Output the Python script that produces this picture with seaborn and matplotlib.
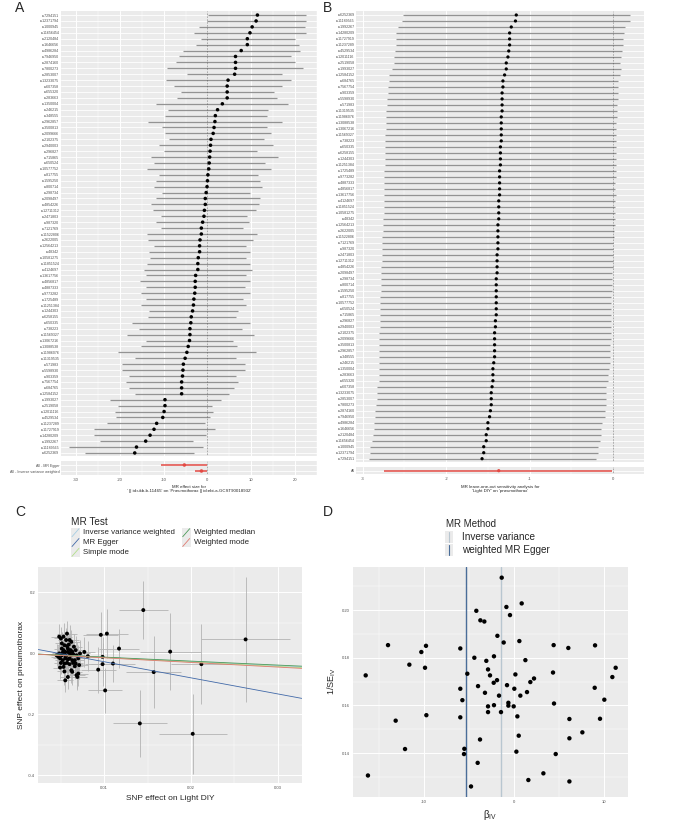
import numpy as np
import pandas as pd
import matplotlib
matplotlib.use('Agg')
import matplotlib.pyplot as plt
from matplotlib.patches import Rectangle
from matplotlib.lines import Line2D
from matplotlib.ticker import MultipleLocator, FixedLocator
import seaborn as sns

W, H = 686, 822

# ---------------- data ----------------
# A: single SNP forest plot
a_snps = ['rs7294151', 'rs12371794', 'rs1000945', 'rs11656454', 'rs2120484', 'rs1646656',
          'rs4986284', 'rs7946950', 'rs2874160', 'rs7800273', 'rs2853007', 'rs13233075',
          'rs607358', 'rs655320', 'rs283663', 'rs1350004', 'rs246215', 'rs348555',
          'rs2962857', 'rs3500813', 'rs2099666', 'rs2102375', 'rs2940003', 'rs296827',
          'rs715865', 'rs650524', 'rs10577752', 'rs817755', 'rs1595250', 'rs800714',
          'rs298734', 'rs2098497', 'rs4854226', 'rs12711312', 'rs2471803', 'rs987320',
          'rs7121769', 'rs11522806', 'rs2622005', 'rs12564213', 'rs48342', 'rs10581275',
          'rs11851524', 'rs4124697', 'rs13617756', 'rs4856817', 'rs4887333', 'rs9773282',
          'rs1725489', 'rs11251384', 'rs1244303', 'rs6258155', 'rs650335', 'rs738223',
          'rs11569327', 'rs13067216', 'rs13088538', 'rs11986076', 'rs11319535', 'rs571983',
          'rs5598930', 'rs903359', 'rs7567754', 'rs684765', 'rs12584152', 'rs1993027',
          'rs2519058', 'rs12011116', 'rs4529534', 'rs11237289', 'rs11727919', 'rs14280209',
          'rs1992267', 'rs11189565', 'rs6252369']
a_b = [11.4, 11.1, 10.2, 9.7, 9.1, 9.1, 7.7, 6.4, 6.4, 6.4,
       6.2, 4.7, 4.5, 4.5, 4.5, 3.4, 2.3, 1.8, 1.7, 1.5,
       1.3, 0.8, 0.7, 0.6, 0.5, 0.4, 0.3, 0.1, 0.0, -0.1,
       -0.3, -0.5, -0.5, -0.7, -0.8, -1.1, -1.4, -1.4, -1.7, -1.8,
       -1.8, -2.1, -2.2, -2.2, -2.7, -2.8, -2.8, -2.9, -3.1, -3.2,
       -3.4, -3.7, -3.8, -4.0, -4.0, -4.1, -4.4, -4.7, -5.1, -5.5,
       -5.6, -5.7, -5.9, -5.9, -5.9, -9.7, -9.7, -9.9, -10.2, -11.6,
       -12.2, -13.1, -14.1, -16.2, -16.6]
a_lo = [0.2, -0.1, -1.9, -3.0, -1.4, -2.6, -5.5, -6.5, -7.2, -9.2,
        -4.6, -9.4, -7.6, -6.1, -6.9, -11.7, -9.1, -9.7, -13.5, -10.3,
        -9.6, -8.7, -11.1, -9.9, -12.8, -12.2, -13.8, -11.1, -11.7, -12.2,
        -10.3, -11.8, -12.9, -12.4, -10.5, -11.7, -10.5, -13.9, -13.6, -12.2,
        -13.3, -13.1, -13.8, -14.5, -14.1, -15.3, -14.1, -15.2, -14.0, -15.1,
        -13.4, -13.6, -17.3, -15.7, -18.4, -14.0, -15.2, -20.4, -16.6, -19.4,
        -19.6, -17.8, -18.6, -17.9, -16.6, -22.3, -20.4, -21.1, -20.8, -22.9,
        -25.8, -25.8, -24.6, -31.5, -28.0]
a_hi = [22.6, 22.5, 22.3, 22.5, 19.9, 21.0, 21.1, 19.1, 19.9, 21.7,
        16.9, 19.0, 16.9, 15.2, 15.8, 18.4, 13.9, 13.6, 17.1, 13.5,
        14.6, 12.8, 15.0, 11.3, 16.2, 13.2, 14.4, 11.6, 11.9, 12.5,
        9.6, 11.9, 11.8, 11.1, 9.1, 9.5, 8.0, 11.2, 10.5, 8.7,
        9.7, 8.9, 9.6, 10.2, 8.9, 9.8, 8.5, 9.6, 8.1, 8.8,
        7.0, 6.4, 9.8, 7.9, 10.6, 5.8, 6.7, 11.0, 6.4, 8.5,
        8.6, 6.5, 6.9, 6.0, 4.9, 3.1, 1.0, 1.2, 0.5, -0.5,
        1.8, -0.4, -3.4, -1.1, -3.1]
a_sum_labels = ['All - MR Egger', 'All - Inverse variance weighted']
a_sum_b = [-5.27, -1.37]
a_sum_lo = [-10.55, -2.74]
a_sum_hi = [-0.02, -0.01]

# B: leave-one-out
b_snps = a_snps[::-1]
b_b = [-1.16, -1.17, -1.22, -1.24, -1.24, -1.24, -1.25, -1.26, -1.28, -1.28,
       -1.30, -1.32, -1.32, -1.33, -1.33, -1.33, -1.33, -1.34, -1.34, -1.34,
       -1.34, -1.34, -1.35, -1.35, -1.35, -1.35, -1.36, -1.36, -1.36, -1.36,
       -1.36, -1.37, -1.37, -1.37, -1.37, -1.38, -1.38, -1.38, -1.38, -1.38,
       -1.39, -1.39, -1.39, -1.39, -1.40, -1.40, -1.40, -1.40, -1.40, -1.40,
       -1.40, -1.41, -1.41, -1.42, -1.42, -1.42, -1.42, -1.42, -1.43, -1.44,
       -1.44, -1.44, -1.45, -1.46, -1.46, -1.46, -1.47, -1.48, -1.50, -1.50,
       -1.52, -1.52, -1.55, -1.55, -1.57]
b_lo = [-2.52, -2.53, -2.58, -2.60, -2.60, -2.60, -2.61, -2.62, -2.63, -2.65,
        -2.68, -2.69, -2.70, -2.70, -2.71, -2.71, -2.72, -2.72, -2.72, -2.72,
        -2.73, -2.73, -2.73, -2.73, -2.73, -2.73, -2.74, -2.74, -2.74, -2.75,
        -2.75, -2.75, -2.75, -2.75, -2.76, -2.76, -2.76, -2.77, -2.77, -2.77,
        -2.77, -2.77, -2.78, -2.78, -2.78, -2.78, -2.78, -2.79, -2.79, -2.79,
        -2.79, -2.79, -2.79, -2.80, -2.80, -2.80, -2.80, -2.81, -2.81, -2.81,
        -2.81, -2.81, -2.83, -2.83, -2.83, -2.84, -2.85, -2.85, -2.87, -2.87,
        -2.88, -2.89, -2.91, -2.91, -2.92]
b_hi = [0.20, 0.20, 0.14, 0.13, 0.12, 0.12, 0.11, 0.10, 0.08, 0.09,
        0.08, 0.06, 0.06, 0.06, 0.06, 0.05, 0.05, 0.05, 0.04, 0.04,
        0.04, 0.04, 0.04, 0.04, 0.03, 0.03, 0.03, 0.03, 0.02, 0.02,
        0.03, 0.02, 0.02, 0.02, 0.02, 0.02, 0.01, 0.01, 0.00, 0.00,
        0.00, 0.00, 0.00, -0.01, -0.01, -0.01, -0.01, -0.02, -0.02, -0.02,
        -0.02, -0.02, -0.03, -0.03, -0.03, -0.04, -0.04, -0.04, -0.04, -0.05,
        -0.06, -0.06, -0.08, -0.08, -0.08, -0.09, -0.10, -0.10, -0.13, -0.14,
        -0.14, -0.16, -0.18, -0.18, -0.20]
b_all_label = ['All']
b_all_b = [-1.37]
b_all_lo = [-2.74]
b_all_hi = [-0.01]

# C: scatter of SNP effects
c_bx = [0.0145, 0.0263, 0.0176, 0.0212, 0.0157, 0.0141, 0.0202, 0.0103, 0.0096, 0.0117,
        0.0101, 0.0093, 0.0098, 0.0098, 0.0110, 0.0077, 0.0081,
        0.0048, 0.0050, 0.0053, 0.0057, 0.0051, 0.0054, 0.0057, 0.0060, 0.0062, 0.0065,
        0.0067, 0.0048, 0.0051, 0.0053, 0.0055, 0.0058, 0.0060, 0.0062, 0.0064, 0.0068,
        0.0049, 0.0052, 0.0055, 0.0058, 0.0060, 0.0063, 0.0066, 0.0070, 0.0050, 0.0054,
        0.0057, 0.0060, 0.0064, 0.0067, 0.0071, 0.0049, 0.0062, 0.0063, 0.0058, 0.0055,
        0.0068, 0.0070, 0.0056, 0.0058, 0.0051, 0.0072, 0.0047, 0.0055, 0.0061, 0.0053,
        0.0066, 0.0069, 0.0045, 0.0052, 0.0056, 0.0059, 0.0063, 0.0054]
c_by = [0.141, 0.045, 0.005, -0.036, -0.062, -0.230, -0.264, 0.064, 0.060, 0.015,
        -0.122, -0.054, -0.036, -0.012, -0.034, 0.004, -0.010,
        0.054, 0.048, 0.054, 0.064, 0.032, 0.026, 0.023, 0.043, 0.037, 0.021,
        0.010, -0.001, -0.007, 0.010, 0.004, 0.004, -0.001, -0.007, -0.003, -0.007,
        -0.017, -0.023, -0.017, -0.021, -0.017, -0.023, -0.023, -0.017, -0.032, -0.034,
        -0.032, -0.036, -0.032, -0.034, -0.039, -0.047, -0.056, -0.061, -0.078, -0.089,
        -0.072, -0.067, 0.043, 0.015, 0.015, -0.001, -0.012, -0.007, 0.010, -0.045,
        -0.043, -0.078, -0.007, 0.002, -0.010, 0.028, 0.005, -0.060]
c_bx_se = [0.0028, 0.0051, 0.0035, 0.0035, 0.0032, 0.0031, 0.0039, 0.0024, 0.0020, 0.0023,
           0.0020, 0.0020, 0.0020, 0.0020, 0.0025, 0.0012, 0.0013,
           0.0009, 0.0008, 0.0010, 0.0011, 0.0008, 0.0009, 0.0010, 0.0011, 0.0010, 0.0009,
           0.0010, 0.0008, 0.0009, 0.0008, 0.0009, 0.0010, 0.0009, 0.0011, 0.0010, 0.0009,
           0.0008, 0.0009, 0.0010, 0.0009, 0.0008, 0.0010, 0.0011, 0.0010, 0.0008, 0.0009,
           0.0009, 0.0010, 0.0011, 0.0009, 0.0010, 0.0008, 0.0010, 0.0011, 0.0009, 0.0009,
           0.0010, 0.0011, 0.0009, 0.0008, 0.0009, 0.0011, 0.0008, 0.0009, 0.0010, 0.0008,
           0.0010, 0.0011, 0.0007, 0.0008, 0.0009, 0.0010, 0.0009, 0.0008]
c_by_se = [0.095, 0.205, 0.125, 0.130, 0.118, 0.110, 0.130, 0.080, 0.075, 0.063,
           0.073, 0.075, 0.070, 0.065, 0.060, 0.050, 0.050,
           0.042, 0.038, 0.045, 0.040, 0.036, 0.044, 0.041, 0.048, 0.039, 0.043,
           0.046, 0.037, 0.040, 0.044, 0.038, 0.042, 0.047, 0.039, 0.041, 0.045,
           0.036, 0.043, 0.040, 0.038, 0.046, 0.042, 0.039, 0.044, 0.037, 0.041,
           0.045, 0.040, 0.038, 0.043, 0.046, 0.039, 0.042, 0.044, 0.040, 0.038,
           0.045, 0.041, 0.039, 0.043, 0.040, 0.044, 0.037, 0.042, 0.046, 0.039,
           0.041, 0.043, 0.036, 0.040, 0.044, 0.038, 0.042, 0.045]
c_methods = ['Inverse variance weighted', 'MR Egger', 'Simple mode', 'Weighted median', 'Weighted mode']
c_intercept = [0.0, 0.0244, 0.0, 0.0, 0.0]
c_slope = [-1.37, -5.26, -1.45, -1.30, -1.52]
c_colors = ['#a6cee3', '#4169a8', '#b2df8a', '#4a9a58', '#e07a70']

# D: funnel plot
d_beta = [-1.33, -0.81, 0.89, -4.15, -0.41, -3.70, -3.26, -1.81, -1.11, 0.63,
          -13.96, -9.74, 4.44, 6.07, 9.04, -10.26, -5.93, -4.37, -2.19, -3.04,
          1.30, -11.59, -9.85, -2.85, 11.33, -5.15, -16.44, -2.63, 0.19, 4.37,
          10.96, 2.26, -1.85, -2.22, 1.85, -3.96, -0.74, -5.93, 0.07, 9.00,
          -3.19, 1.48, -1.63, 0.74, -5.70, 10.07, -0.59, 4.48, -2.85, -2.19,
          -0.59, 0.00, -2.85, -1.41, -9.70, 0.41, -5.93, -13.11, 6.19, 9.59,
          7.63, 0.56, -3.74, 6.19, -12.07, -5.48, 0.30, -5.52, 4.67, -4.00,
          3.30, -16.19, 1.63, 6.19, -4.74]
d_inv_se = [0.2136, 0.2013, 0.2028, 0.1997, 0.1979, 0.1957, 0.1952, 0.1892, 0.1864, 0.1870,
            0.1853, 0.1850, 0.1853, 0.1841, 0.1852, 0.1824, 0.1839, 0.1800, 0.1806, 0.1787,
            0.1790, 0.1771, 0.1758, 0.1751, 0.1758, 0.1733, 0.1726, 0.1726, 0.1730, 0.1738,
            0.1719, 0.1713, 0.1706, 0.1695, 0.1698, 0.1681, 0.1685, 0.1670, 0.1670, 0.1674,
            0.1653, 0.1656, 0.1641, 0.1641, 0.1622, 0.1624, 0.1611, 0.1608, 0.1596, 0.1601,
            0.1599, 0.1596, 0.1572, 0.1572, 0.1559, 0.1554, 0.1550, 0.1536, 0.1543, 0.1544,
            0.1487, 0.1473, 0.1457, 0.1462, 0.1417, 0.1418, 0.1406, 0.1396, 0.1396, 0.1359,
            0.1315, 0.1306, 0.1287, 0.1281, 0.1260]
d_methods = ['Inverse variance', 'weighted MR Egger']
d_lines = [-1.37, -5.26]
d_colors = ['#b8c6d0', '#4a6d99']

# ---------------- style ----------------
sns.set_theme(style='darkgrid', rc={
    'axes.facecolor': '#EBEBEB', 'grid.color': 'white', 'grid.linewidth': 0.7,
    'axes.unicode_minus': False, 'xtick.color': '#333333', 'ytick.color': '#333333',
    'xtick.labelcolor': '#4D4D4D', 'ytick.labelcolor': '#4D4D4D',
    'xtick.major.size': 1.3, 'ytick.major.size': 1.3,
    'xtick.major.width': 0.4, 'ytick.major.width': 0.4,
    'xtick.major.pad': 1.0, 'ytick.major.pad': 1.0,
    'axes.axisbelow': True, 'mathtext.fontset': 'custom',
    'mathtext.rm': 'Liberation Sans', 'mathtext.it': 'Liberation Sans:italic'})
plt.rcParams['font.family'] = ['Liberation Sans', 'DejaVu Sans']

fig = plt.figure(figsize=(W / 100, H / 100), dpi=100)


def rect(left, top, right, bottom):
    return [left / W, 1 - bottom / H, (right - left) / W, (bottom - top) / H]


def px(x, y):
    return x / W, 1 - y / H


def forest(ax, labels, b, lo, hi, color, size, lw):
    df = pd.DataFrame({'snp': labels, 'b': b, 'lo': lo, 'hi': hi})
    df['pos'] = np.arange(len(df))
    ax.hlines(df['pos'], df['lo'], df['hi'], color=color, lw=lw, zorder=2)
    sns.scatterplot(data=df, x='b', y='pos', color='black' if color != '#e34a44' else color,
                    s=size, edgecolor='none', ax=ax, zorder=3, legend=False)
    ax.set_yticks(df['pos'], df['snp'])
    ax.set_ylim(len(df) - 0.4, -0.6)
    ax.axvline(0, ls=(0, (1, 1.2)), color='#555555', lw=0.5, zorder=2.5)
    ax.grid(axis='y', color='white', lw=0.6)
    ax.tick_params(axis='y', labelsize=2.6, length=0)
    ax.set_xlabel('')
    ax.set_ylabel('')
    for s in ax.spines.values():
        s.set_visible(False)


# ---- A ----
axA = fig.add_axes(rect(60.7, 11.5, 317, 456.5))
axA2 = fig.add_axes(rect(60.7, 461.4, 317, 474.6))
forest(axA, a_snps, a_b, a_lo, a_hi, '#939393', 6.5, 0.9)
forest(axA2, a_sum_labels, a_sum_b, a_sum_lo, a_sum_hi, '#e34a44', 6.5, 1.1)
for ax in (axA, axA2):
    ax.set_xlim(-33.5, 25)
    ax.xaxis.set_major_locator(FixedLocator([-30, -20, -10, 0, 10, 20]))
    ax.xaxis.set_minor_locator(FixedLocator([-25, -15, -5, 5, 15, 25]))
    ax.grid(axis='x', which='minor', color='white', lw=0.35)
axA.tick_params(axis='x', labelbottom=False, length=0)
axA2.tick_params(axis='x', labelsize=3.0)
axA2.set_xlabel("MR effect size for\n' || id:ukb-b-11465' on 'Pneumothorax || id:ebi-a-GCST90018932'",
                fontsize=3.2, labelpad=0.2, linespacing=1.0)

# ---- B ----
axB = fig.add_axes(rect(356, 11.4, 644, 462.3))
axB2 = fig.add_axes(rect(356, 467.1, 644, 474.3))
forest(axB, b_snps, b_b, b_lo, b_hi, '#939393', 5.5, 0.9)
forest(axB2, b_all_label, b_all_b, b_all_lo, b_all_hi, '#e34a44', 5.5, 1.1)
for ax in (axB, axB2):
    ax.set_xlim(-3.08, 0.37)
    ax.xaxis.set_major_locator(FixedLocator([-3, -2, -1, 0]))
    ax.xaxis.set_minor_locator(FixedLocator([-2.5, -1.5, -0.5]))
    ax.grid(axis='x', which='minor', color='white', lw=0.35)
axB.tick_params(axis='x', labelbottom=False, length=0)
axB2.tick_params(axis='x', labelsize=3.0)
axB2.set_xlabel("MR leave-one-out sensitivity analysis for\n'Light DIY' on 'pneumothorax'",
                fontsize=3.2, labelpad=0.6, linespacing=1.0)

# ---- C ----
axC = fig.add_axes(rect(38.3, 566.7, 301.7, 783.3))
axC.errorbar(c_bx, c_by, xerr=c_bx_se, yerr=c_by_se, fmt='none', ecolor='#b4b4b4',
             elinewidth=0.6, zorder=2)
sns.scatterplot(x=c_bx, y=c_by, color='black', s=8, edgecolor='none', ax=axC, zorder=3)
for a0, a1, col in zip(c_intercept, c_slope, c_colors):
    axC.axline((0, a0), slope=a1, color=col, lw=0.6, zorder=4)
axC.set_xlim(0.00239, 0.03277)
axC.set_ylim(-0.426, 0.283)
axC.set_xticks([0.01, 0.02, 0.03], ['0.01', '0.02', '0.03'])
axC.set_yticks([-0.4, -0.2, 0.0, 0.2], ['-0.4', '-0.2', '0.0', '0.2'])
axC.xaxis.set_minor_locator(MultipleLocator(0.005))
axC.yaxis.set_minor_locator(MultipleLocator(0.1))
axC.grid(which='minor', color='white', lw=0.35)
axC.tick_params(labelsize=3.0)
axC.set_xlabel('SNP effect on Light DIY', fontsize=6, labelpad=1.2)
axC.set_ylabel('SNP effect on pneumothorax', fontsize=6, labelpad=2.5)
for s in axC.spines.values():
    s.set_visible(False)

# ---- D ----
axD = fig.add_axes(rect(353, 566.7, 628, 796.7))
sns.scatterplot(x=d_beta, y=d_inv_se, color='black', s=10, edgecolor='none', ax=axD, zorder=3)
for xv, col in zip(d_lines, d_colors):
    axD.axvline(xv, color=col, lw=1.0, zorder=2)
axD.set_xlim(-17.85, 12.7)
axD.set_ylim(0.1217, 0.2182)
axD.set_xticks([-10, 0, 10], ['-10', '0', '10'])
axD.set_yticks([0.14, 0.16, 0.18, 0.20], ['0.14', '0.16', '0.18', '0.20'])
axD.xaxis.set_minor_locator(MultipleLocator(5))
axD.yaxis.set_minor_locator(MultipleLocator(0.01))
axD.grid(which='minor', color='white', lw=0.35)
axD.tick_params(labelsize=3.0)
axD.set_xlabel(r'$\mathrm{β}_{\mathrm{IV}}$', fontsize=7, labelpad=1.0)
axD.set_ylabel(r'$1/\mathrm{SE}_{\mathrm{IV}}$', fontsize=6.5, labelpad=2.5)
for s in axD.spines.values():
    s.set_visible(False)

# ---- legends ----
fig.text(*px(71, 521.7), 'MR Test', fontsize=7.2, va='center', ha='left')
leg_pos = [(71, 532.7), (71, 542.5), (71, 552.3), (181.7, 532.7), (181.7, 542.5)]
for (kx, ky), name, col in zip(leg_pos, c_methods, c_colors):
    fig.add_artist(Rectangle(px(kx, ky + 4.9), 9 / W, 9.8 / H, transform=fig.transFigure,
                             facecolor='#EBEBEB', edgecolor='none'))
    x0, y0 = px(kx + 1, ky + 4)
    x1, y1 = px(kx + 8, ky - 4)
    fig.add_artist(Line2D([x0, x1], [y0, y1], transform=fig.transFigure, color=col, lw=0.6))
    fig.text(*px(kx + 12.3, ky), name, fontsize=5.7, va='center', ha='left')

fig.text(*px(446, 524.3), 'MR Method', fontsize=7.0, va='center', ha='left')
for i, (name, col) in enumerate(zip(d_methods, d_colors)):
    ky = 537.3 + i * 12.7
    fig.add_artist(Rectangle(px(445, ky + 6), 7.7 / W, 12 / H, transform=fig.transFigure,
                             facecolor='#EBEBEB', edgecolor='none'))
    x0, y0 = px(449, ky + 5)
    x1, y1 = px(449, ky - 5)
    fig.add_artist(Line2D([x0, x1], [y0, y1], transform=fig.transFigure, color=col, lw=0.8))
    fig.text(*px(461.7, ky), name, fontsize=7.2, va='center', ha='left')

# panel letters
for letter, (lx, ly) in zip('ABCD', [(20, 8.3), (327.5, 8.3), (20, 511.7), (327.5, 511.7)]):
    fig.text(*px(lx, ly), letter, fontsize=10, ha='center', va='center')

fig.savefig('out.png', dpi=100)
